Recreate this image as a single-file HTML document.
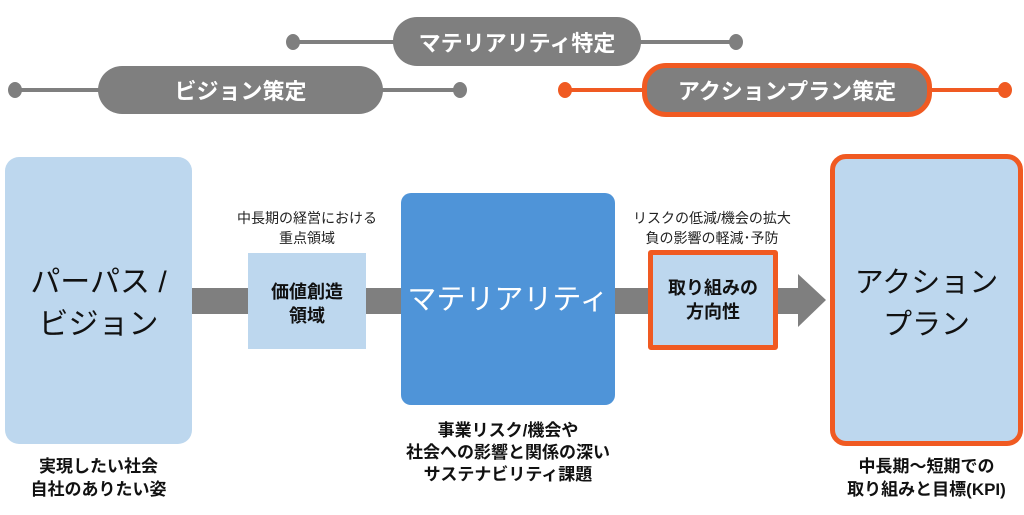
<!DOCTYPE html>
<html><head><meta charset="utf-8"><style>
body{margin:0;width:1024px;height:515px;background:#fff;position:relative;overflow:hidden;font-family:"Liberation Sans","Noto Sans CJK JP",sans-serif;}
.a{position:absolute;box-sizing:border-box;}
.t{position:absolute;text-align:center;color:#111;white-space:nowrap;}
.pill{position:absolute;box-sizing:border-box;background:#7f7f7f;color:#fff;border-radius:24px;display:flex;align-items:center;justify-content:center;font-size:22px;font-weight:bold;}
.dot{position:absolute;width:14px;height:16px;border-radius:50%;background:#7f7f7f;}
</style></head><body>
<div class="a" style="left:293px;top:40px;width:444px;height:4px;background:#7f7f7f"></div>
<div class="dot" style="left:286px;top:34px"></div><div class="dot" style="left:729px;top:34px"></div>
<div class="pill" style="left:393px;top:17px;width:248px;height:49px">マテリアリティ特定</div>

<div class="a" style="left:15px;top:88px;width:445px;height:4px;background:#7f7f7f"></div>
<div class="dot" style="left:8px;top:82px"></div><div class="dot" style="left:453px;top:82px"></div>
<div class="pill" style="left:98px;top:66px;width:285px;height:48px">ビジョン策定</div>

<div class="a" style="left:565px;top:88px;width:440px;height:4px;background:#f05a22"></div>
<div class="dot" style="left:558px;top:82px;background:#f05a22"></div><div class="dot" style="left:998px;top:82px;background:#f05a22"></div>
<div class="pill" style="left:642px;top:63px;width:290px;height:54px;border:5px solid #f05a22">アクションプラン策定</div>

<div class="a" style="left:192px;top:288px;width:610px;height:26px;background:#7f7f7f"></div>
<svg class="a" style="left:798px;top:274px" width="30" height="54"><polygon points="0,0 28,26 0,53" fill="#7f7f7f"/></svg>

<div class="a" style="left:5px;top:157px;width:187px;height:287px;background:#bdd7ee;border-radius:14px"></div>
<div class="t" style="left:5px;width:187px;top:262px;font-size:30px;line-height:42px">パーパス /<br>ビジョン</div>
<div class="t" style="left:0;width:197px;top:455px;font-size:17px;line-height:23px;font-weight:bold">実現したい社会<br>自社のありたい姿</div>

<div class="t" style="left:207px;width:200px;top:208px;font-size:14px;line-height:20px;color:#222">中長期の経営における<br>重点領域</div>
<div class="a" style="left:248px;top:253px;width:118px;height:96px;background:#bdd7ee"></div>
<div class="t" style="left:248px;width:118px;top:280px;font-size:18px;line-height:24px;font-weight:bold">価値創造<br>領域</div>

<div class="a" style="left:401px;top:193px;width:214px;height:212px;background:#4f94d8;border-radius:10px"></div>
<div class="t" style="left:401px;width:214px;top:280px;font-size:29px;color:#fff;line-height:40px">マテリアリティ</div>
<div class="t" style="left:380px;width:256px;top:420px;font-size:17px;line-height:22px;font-weight:bold">事業リスク/機会や<br>社会への影響と関係の深い<br>サステナビリティ課題</div>

<div class="t" style="left:612px;width:200px;top:208px;font-size:14px;line-height:20px;color:#222">リスクの低減/機会の拡大<br>負の影響の軽減･予防</div>
<div class="a" style="left:648px;top:250px;width:130px;height:100px;background:#bdd7ee;border:5px solid #f05a22;border-radius:3px"></div>
<div class="t" style="left:648px;width:130px;top:276px;font-size:18px;line-height:24px;font-weight:bold">取り組みの<br>方向性</div>

<div class="a" style="left:830px;top:154px;width:193px;height:292px;background:#bdd7ee;border:5px solid #f05a22;border-radius:16px"></div>
<div class="t" style="left:830px;width:193px;top:262px;font-size:29px;line-height:42px">アクション<br>プラン</div>
<div class="t" style="left:820px;width:213px;top:455px;font-size:17px;line-height:23px;font-weight:bold">中長期～短期での<br>取り組みと目標(KPI)</div>
</body></html>
